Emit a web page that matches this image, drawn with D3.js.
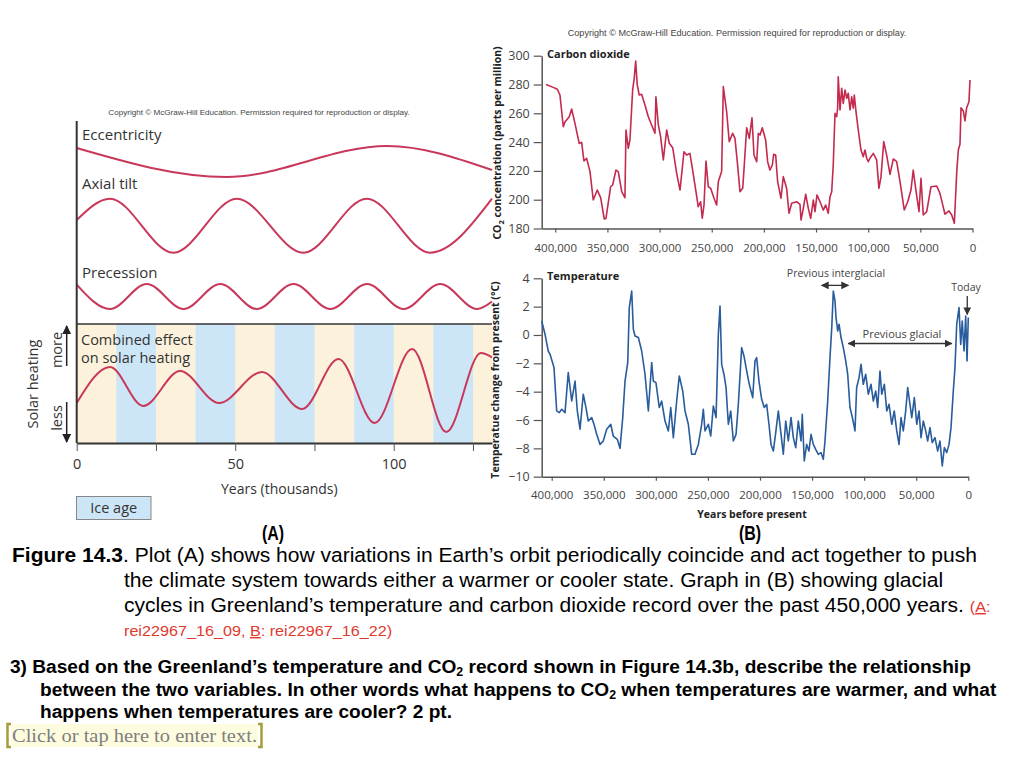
<!DOCTYPE html>
<html><head><meta charset="utf-8">
<script src="https://cdn.jsdelivr.net/npm/d3@7"></script>
<style>body{margin:0;background:#fff}svg{display:block}</style>
</head><body>
<svg id="c" width="1024" height="759"></svg>
<script>
// ---------- Panel A data (schematic orbital curves, thousands of years) ----------
const eccK = [0, 47.3, 97.9, 131];
const eccV = [0.87, -1, 1, -0.55];
const tiltK = [0, 10.5, 30.5, 50.5, 71.5, 91.5, 111.5, 131];
const tiltV = [0.21, 1, -1, 1, -1, 1, -1, 1];
const precK = [0, 10.5, 22.1, 33.7, 45.3, 56.8, 68.4, 80, 91.6, 103.1, 114.7, 126.3, 131];
const precV = [0.95, -1, 1, -1, 1, -1, 1, -1, 1, -1, 1, -1, -0.4];
const combK = [0, 10.5, 21, 32.6, 44.9, 58.4, 71.1, 82.6, 94, 105.8, 116.6, 127.5, 131];
const combV = [33.6, 63.9, 31.1, 60.5, 33.6, 59.7, 28.6, 70.6, 16.8, 79, 9.2, 75.6, 72];
const iceStart = [12.5, 37.5, 62.5, 87.5, 112.5];
const iceEnd = [25, 50, 75, 100, 125];
const aTicks = [0, 25, 50, 75, 100, 125];
const aLabels = [0, 50, 100];

// ---------- Panel B data (thousands of years before present) ----------
const co2K = [408.9,401.9,398,395.5,392.3,390.7,386.6,384.3,381.1,378.9,377,374.7,372.5,369.9,366.7,363.6,359.7,356.5,353,351.4,346.9,345,341.8,339.6,336.3,333.2,332.2,330,328.4,325.8,324.3,322.9,321.4,319.5,317.2,314,310.8,307.6,304.4,303.5,301.2,299,296.4,293.2,290.7,287.4,283.6,280.4,276.6,274,270.9,268.3,265.1,262.9,260.6,259.1,257.4,255.5,253.3,251,247.8,245.3,243.7,240.5,238.9,235.7,233.2,229.9,227.7,225.5,222.9,220.3,219.1,216.5,214,211.4,209.5,206.9,205.3,203.7,201.5,198.3,196.4,194.2,191.9,190.6,188.7,186.8,183.6,181.4,178.2,175.9,173.4,168.6,165.4,164.4,162.2,159.9,157.4,155.1,152.6,151,149.1,146.2,143,140.8,138.3,136.6,135,133.5,131.8,130.2,129.3,128.7,127,125.4,123.9,122.2,120.6,119.1,117.4,115.8,114.3,113.3,111.7,109.5,106.9,104.7,103.1,101.4,99.9,98.3,95.1,91.9,89.7,87.7,85.1,82.3,79.1,75.9,72.7,69.5,65.4,62.1,59,56.8,54.5,51.3,49.4,47.2,43.9,39.8,34.3,31.2,26.4,22.5,19.9,17.4,15.1,13.6,12,11,8.8,7.2,5.6,3.4,2.4];
const co2V = [280,278,276.7,272.7,250.7,254,257.6,263,253,245.4,239,239.8,226.9,228.7,219.5,199.8,206.7,201.4,186.6,187,209,210.2,220.6,219.5,205.6,201.4,248.4,235.7,241.5,276.2,284.3,296.3,279.7,272.7,273.2,265.8,257.6,251.9,246.1,271.5,251.9,243.8,227.6,248.4,239.2,236.1,218.3,206.7,233.3,231,232.2,220.6,205.6,195.1,198.6,187.1,196.3,226.9,209,207.9,201,196.3,212.5,219.5,278.5,261.1,240.3,246.1,242.6,226.4,205.6,207.9,220.6,250,242.6,256.9,231,226.4,246.1,244.9,250,241.5,226.4,220.6,224.1,231.5,231,212.5,201,216,207.9,190.6,197.5,198.6,196.8,185.9,194,203.8,194,187.1,199.8,191.7,203.3,198.6,192.8,196.3,190.6,202.1,205.6,224.1,260,257.6,263.5,285.4,262.3,277.4,266.9,276.2,270.4,273.9,262.3,271.5,263.5,272.7,261.1,248.4,234.5,229.9,234.5,228.8,226.4,228.8,232.2,227.6,207.9,216,240.3,231,217.6,228.3,226.4,212.5,192.8,198.6,206.7,220.6,207.9,191.7,214.9,189.4,191.7,209,209.5,204.4,189.9,192.2,189.4,183.6,219.5,234.5,238.5,263.9,261.6,254.7,263.9,268,283.1];

const tempK = [409.6,406.4,403.3,401.6,397.8,395.2,392.7,390.4,387.2,384.1,380.8,377.6,375.4,372.8,369.7,367.1,364.9,361.6,359.4,356.8,353.6,350.5,347.2,343.3,340.9,337,334.4,331.8,329.6,327,325.5,323.2,321.6,320,316.8,313.6,310.4,307.2,304,302.4,299.9,296.7,294.4,291.2,288,285.7,283.2,280,277.5,274.2,272,268.8,265.6,262.4,259.2,256,254.4,252.8,249.6,247.3,244.8,242.2,240,238.4,236.8,234.6,232.6,230.4,228.1,225.6,223,220.8,217.6,215.4,212.8,210.3,207,204.8,203.2,201,198.4,195.9,193.6,191.4,189.4,187.2,184.9,182.4,179.8,177.6,175.3,172.8,170.2,168,165.7,163.2,160.6,159.4,157.5,155.2,153,151,148.8,146.5,144,141.4,139.2,137.6,135,132.8,131.1,129.6,128,127,125.4,124.1,122.2,120,117.7,115.8,113.6,112,110,108.8,107.2,104.9,103,100.8,98.5,96,93.4,91.2,88.9,87,84.8,83.1,80.6,78.3,76.1,73.5,71.1,68.7,66.5,64.6,62.4,60.1,58.2,56,54.3,51.8,49.5,47.3,45.4,43.2,40.9,39,36.8,34.6,32,29.4,27.2,25,23,20.7,18.5,16.6,14.4,12.8,11.1,8.9,7.3,5.8,4.1,2.5,1.2,0];
const tempV = [0.99,0.05,-1.13,-1.36,-2.3,-5.36,-5.48,-5.24,-5.48,-2.65,-4.66,-3.25,-5.36,-6.65,-4.18,-5.12,-6.07,-5.83,-6.3,-7.01,-7.72,-7.48,-6.65,-6.3,-7.13,-7.36,-8,-5.83,-3.25,-1.95,1.93,3.1,0.4,-0.07,-0.18,-1.13,-2.77,-5.36,-1.95,-3.25,-3.36,-5.12,-4.66,-6.07,-6.77,-5.12,-7.24,-4.66,-2.89,-3.95,-5.36,-6.3,-8.42,-8.42,-7.72,-6.3,-5.24,-6.77,-6.3,-7.13,-5.01,-5.83,0.05,2.05,-2.07,-2.77,-3.71,-6.3,-5.36,-7.48,-7.01,-4.89,-0.89,-1.48,-2.54,-3.48,-4.42,-1.83,-1.6,-3.25,-4.54,-5.12,-4.89,-6.3,-7.72,-8.19,-6.89,-5.36,-7.01,-8.42,-6.07,-7.48,-5.83,-7.24,-7.95,-6.07,-7.48,-5.6,-8.89,-7.72,-8.19,-7.01,-7.72,-8.07,-8.42,-8.3,-8.77,-7.48,-4.66,-1.6,0.52,3.1,2.4,1.23,0.28,0.76,-0.18,-0.89,-1.83,-2.77,-5.12,-5.6,-6.3,-6.77,-3.71,-3.01,-2.07,-3.48,-2.77,-4.18,-3.48,-4.66,-3.95,-5.12,-2.54,-4.18,-3.48,-5.36,-4.89,-6.3,-5.36,-6.77,-7.72,-5.83,-6.77,-5.36,-3.71,-4.89,-5.83,-4.42,-6.3,-5.36,-7.24,-6.07,-6.77,-7.48,-6.54,-7.6,-7.24,-8.19,-7.48,-9.24,-7.95,-8.3,-7.72,-6.54,-3.95,-2.3,0.76,1.93,-0.66,0.99,-1.13,1.34,-1.83,1.23];

const co2YTicks = [180, 200, 220, 240, 260, 280, 300];
const tempYTicks = [-10, -8, -6, -4, -2, 0, 2, 4];
const yearTicks = [400, 350, 300, 250, 200, 150, 100, 50, 0];

// annotations (thousand years, °C)
const interK = [140.8, 115.2], interT = 3.5;
const glacK = [115.2, 15.9], glacT = -0.6;
const todayK = 1, todayT = [2.75, 1.45];

const svg = d3.select('#c');
const SANS = "'Open Sans', sans-serif";
const ARIAL = "'Liberation Sans', Arial, sans-serif";
const TXT = '#333';
const RED = '#c8385a';

// defs: arrow markers
const defs = svg.append('defs');
function marker(id, col) {
  defs.append('marker').attr('id', id).attr('viewBox', '0 0 10 10').attr('refX', 9).attr('refY', 5)
    .attr('markerWidth', 6).attr('markerHeight', 6).attr('orient', 'auto-start-reverse')
    .append('path').attr('d', 'M0,0 L10,5 L0,10 Z').attr('fill', col);
}
marker('arrA', '#222');
marker('arrB', '#333');

// ================= PANEL A =================
const xA = d3.scaleLinear().domain([0, 131]).range([76.7, 492]);
const yEcc = d3.scaleLinear().domain([-1, 1]).range([177, 146]);
const yTilt = d3.scaleLinear().domain([-1, 1]).range([252.7, 198.7]);
const yPrec = d3.scaleLinear().domain([-1, 1]).range([309, 284]);
const yComb = d3.scaleLinear().domain([0, 100]).range([443, 324]);

svg.append('text').attr('x', 259).attr('y', 115).attr('text-anchor', 'middle')
  .style('font-family', ARIAL).style('font-size', '8.1px').attr('fill', '#444')
  .text('Copyright © McGraw-Hill Education. Permission required for reproduction or display.');

const gA = svg.append('g');
gA.append('rect').attr('x', xA(0)).attr('y', yComb(100)).attr('width', xA(131) - xA(0))
  .attr('height', yComb(0) - yComb(100)).attr('fill', '#fcf2dc');
gA.selectAll('rect.ice').data(iceStart).join('rect').attr('class', 'ice')
  .attr('x', d => xA(d)).attr('width', (d, i) => xA(iceEnd[i]) - xA(d))
  .attr('y', yComb(100)).attr('height', yComb(0) - yComb(100)).attr('fill', '#cde6f7');
gA.append('line').attr('x1', xA(0)).attr('x2', xA(131)).attr('y1', yComb(100)).attr('y2', yComb(100))
  .attr('stroke', '#333').attr('stroke-width', 1.5);

function curveA(ks, vs, ys) {
  const line = d3.line().x(d => xA(d[0])).y(d => ys(d[1])).curve(d3.curveMonotoneX);
  gA.append('path').attr('d', line(ks.map((k, i) => [k, vs[i]])))
    .attr('fill', 'none').attr('stroke', RED).attr('stroke-width', 2);
}
curveA(eccK, eccV, yEcc);
curveA(tiltK, tiltV, yTilt);
curveA(precK, precV, yPrec);
curveA(combK, combV, yComb);

// left axis line
gA.append('line').attr('x1', xA(0)).attr('x2', xA(0)).attr('y1', 121).attr('y2', yComb(0))
  .attr('stroke', '#333').attr('stroke-width', 2);

const axA = gA.append('g').attr('transform', `translate(0,${yComb(0)})`)
  .call(d3.axisBottom(xA).tickValues(aTicks).tickSize(8).tickPadding(8).tickSizeOuter(0)
    .tickFormat(d => aLabels.includes(d) ? d : ''));
axA.select('.domain').attr('stroke', '#333').attr('stroke-width', 2);
axA.selectAll('.tick line').attr('stroke', '#555').attr('stroke-width', 1);
axA.selectAll('text').style('font-family', SANS).style('font-size', '14.5px').attr('fill', TXT);

function labelA(t, x, y, size) {
  return gA.append('text').attr('x', x).attr('y', y).style('font-family', SANS)
    .style('font-size', (size || 14.5) + 'px').attr('fill', TXT).text(t);
}
labelA('Eccentricity', 82, 140, 15);
labelA('Axial tilt', 82, 189, 15);
labelA('Precession', 82, 278, 15);
labelA('Combined effect', 81, 345);
labelA('on solar heating', 81, 363);
gA.append('text').attr('x', (xA(0) + xA(131)) / 2 - 5).attr('y', 494).attr('text-anchor', 'middle')
  .style('font-family', SANS).style('font-size', '14px').attr('fill', TXT).text('Years (thousands)');

// Solar heating side label
gA.append('text').attr('transform', 'translate(38,384) rotate(-90)').attr('text-anchor', 'middle')
  .style('font-family', SANS).style('font-size', '14.5px').attr('fill', TXT).text('Solar heating');
gA.append('text').attr('transform', 'translate(62,350) rotate(-90)').attr('text-anchor', 'middle')
  .style('font-family', SANS).style('font-size', '14.5px').attr('fill', TXT).text('more');
gA.append('text').attr('transform', 'translate(62,418) rotate(-90)').attr('text-anchor', 'middle')
  .style('font-family', SANS).style('font-size', '14.5px').attr('fill', TXT).text('less');
gA.append('line').attr('x1', 66.7).attr('x2', 66.7).attr('y1', 366).attr('y2', 326)
  .attr('stroke', '#222').attr('stroke-width', 1.5).attr('marker-end', 'url(#arrA)');
gA.append('line').attr('x1', 66.7).attr('x2', 66.7).attr('y1', 402).attr('y2', 442)
  .attr('stroke', '#222').attr('stroke-width', 1.5).attr('marker-end', 'url(#arrA)');

// Ice age legend
gA.append('rect').attr('x', 76.5).attr('y', 496.5).attr('width', 74.5).attr('height', 23)
  .attr('fill', '#cde6f7').attr('stroke', '#888').attr('stroke-width', 1);
gA.append('text').attr('x', 113.7).attr('y', 513).attr('text-anchor', 'middle')
  .style('font-family', SANS).style('font-size', '14.5px').attr('fill', TXT).text('Ice age');

// ================= PANEL B =================
const gB = svg.append('g');
gB.append('text').attr('x', 737).attr('y', 36).attr('text-anchor', 'middle')
  .style('font-family', ARIAL).style('font-size', '9.1px').attr('fill', '#444')
  .text('Copyright © McGraw-Hill Education. Permission required for reproduction or display.');

const fmtYear = d => d3.format(',')(d * 1000);

// CO2
const xC = d3.scaleLinear().domain([413, 0]).range([541.7, 972.5]);
const yC = d3.scaleLinear().domain([180, 300]).range([228.5, 55.7]);
function styleAxis(ax, fs) {
  ax.select('.domain').attr('stroke', '#555').attr('stroke-width', 1.5);
  ax.selectAll('.tick line').attr('stroke', '#555').attr('stroke-width', 1.2);
  ax.selectAll('text').style('font-family', SANS).style('font-size', fs + 'px').attr('fill', '#444');
}
styleAxis(gB.append('g').attr('transform', `translate(0,${yC(180)})`)
  .call(d3.axisBottom(xC).tickValues(yearTicks).tickFormat(fmtYear).tickSize(4).tickPadding(11).tickSizeOuter(0)), 11.5);
styleAxis(gB.append('g').attr('transform', `translate(${xC(413)},0)`)
  .call(d3.axisLeft(yC).tickValues(co2YTicks).tickSize(8).tickPadding(4).tickSizeOuter(0)), 12.5);
gB.append('path').attr('d', d3.line().x(d => xC(d[0])).y(d => yC(d[1]))(co2K.map((k, i) => [k, co2V[i]])))
  .attr('fill', 'none').attr('stroke', '#c32a4e').attr('stroke-width', 1.6).attr('stroke-linejoin', 'round');
gB.append('text').attr('x', 547).attr('y', 58).style('font-family', SANS).style('font-weight', 700)
  .style('font-size', '11px').attr('fill', '#222').text('Carbon dioxide');
const co2Title = gB.append('text').attr('transform', 'translate(501,143) rotate(-90)').attr('text-anchor', 'middle')
  .style('font-family', SANS).style('font-weight', 700).style('font-size', '10.5px').attr('fill', '#222');
co2Title.append('tspan').text('CO');
co2Title.append('tspan').attr('dy', 3).style('font-size', '7.5px').text('2');
co2Title.append('tspan').attr('dy', -3).text(' concentration (parts per million)');

// Temperature
const xT = d3.scaleLinear().domain([409.6, 0]).range([541.7, 968.3]);
const yT = d3.scaleLinear().domain([-10, 4]).range([476.7, 278.3]);
styleAxis(gB.append('g').attr('transform', `translate(0,${yT(-10)})`)
  .call(d3.axisBottom(xT).tickValues(yearTicks).tickFormat(fmtYear).tickSize(4).tickPadding(10).tickSizeOuter(0)), 11.5);
styleAxis(gB.append('g').attr('transform', `translate(${xT(409.6)},0)`)
  .call(d3.axisLeft(yT).tickValues(tempYTicks).tickSize(8).tickPadding(4).tickSizeOuter(0)), 12.5);
gB.append('path').attr('d', d3.line().x(d => xT(d[0])).y(d => yT(d[1]))(tempK.map((k, i) => [k, tempV[i]])))
  .attr('fill', 'none').attr('stroke', '#295c9c').attr('stroke-width', 1.6).attr('stroke-linejoin', 'round');
gB.append('text').attr('x', 547).attr('y', 280).style('font-family', SANS).style('font-weight', 700)
  .style('font-size', '11px').attr('fill', '#222').text('Temperature');
gB.append('text').attr('transform', 'translate(499,380) rotate(-90)').attr('text-anchor', 'middle')
  .style('font-family', SANS).style('font-weight', 700).style('font-size', '10.5px').attr('fill', '#222')
  .text('Temperatue change from present (°C)');
gB.append('text').attr('x', 752).attr('y', 518).attr('text-anchor', 'middle')
  .style('font-family', SANS).style('font-weight', 700).style('font-size', '10.5px').attr('fill', '#222')
  .text('Years before present');

// annotations
function dbl(k, t) {
  gB.append('line').attr('x1', xT(k[0])).attr('x2', xT(k[1])).attr('y1', yT(t)).attr('y2', yT(t))
    .attr('stroke', '#333').attr('stroke-width', 1.3)
    .attr('marker-start', 'url(#arrB)').attr('marker-end', 'url(#arrB)');
}
dbl(interK, interT);
dbl(glacK, glacT);
gB.append('line').attr('x1', xT(todayK)).attr('x2', xT(todayK)).attr('y1', yT(todayT[0])).attr('y2', yT(todayT[1]))
  .attr('stroke', '#333').attr('stroke-width', 1.3).attr('marker-end', 'url(#arrB)');
gB.append('text').attr('x', (xT(interK[0]) + xT(interK[1])) / 2 + 1).attr('y', 277).attr('text-anchor', 'middle')
  .style('font-family', SANS).style('font-size', '10.5px').attr('fill', '#444').text('Previous interglacial');
gB.append('text').attr('x', 902).attr('y', 338).attr('text-anchor', 'middle')
  .style('font-family', SANS).style('font-size', '11px').attr('fill', '#444').text('Previous glacial');
gB.append('text').attr('x', 966).attr('y', 291).attr('text-anchor', 'middle')
  .style('font-family', SANS).style('font-size', '10.5px').attr('fill', '#444').text('Today');

// ================= CAPTION =================
function condensedBlock(lines, fontSize, weight, refIndex, refWidth) {
  const g = svg.append('g');
  const texts = lines.map(ln => {
    const t = g.append('text').attr('y', ln.y).style('font-family', ARIAL)
      .style('font-size', fontSize + 'px').style('font-weight', weight).attr('fill', '#000');
    ln.parts.forEach(p => {
      const ts = t.append('tspan').text(p.t);
      if (p.b) ts.style('font-weight', 700);
      if (p.c) ts.attr('fill', p.c);
      if (p.fs) ts.style('font-size', p.fs + 'px');
      if (p.u) ts.style('text-decoration', 'underline');
      if (p.dy) ts.attr('dy', p.dy);
    });
    return t;
  });
  const w = texts[refIndex].node().getComputedTextLength();
  const s = refWidth / w;
  g.attr('transform', `scale(${s},1)`);
  texts.forEach((t, i) => t.attr('x', lines[i].x / s));
}

svg.append('text').attr('x', 273).attr('y', 540).attr('text-anchor', 'middle')
  .style('font-family', ARIAL).style('font-weight', 700).style('font-size', '19.5px')
  .attr('transform', 'translate(273,0) scale(0.82,1) translate(-273,0)').text('(A)');
svg.append('text').attr('x', 750).attr('y', 540).attr('text-anchor', 'middle')
  .style('font-family', ARIAL).style('font-weight', 700).style('font-size', '19.5px')
  .attr('transform', 'translate(750,0) scale(0.82,1) translate(-750,0)').text('(B)');

const REDT = '#e03a2f';
condensedBlock([
  { x: 12, y: 562, parts: [{ t: 'Figure 14.3', b: 1 }, { t: '. Plot (A) shows how variations in Earth’s orbit periodically coincide and act together to push' }] },
  { x: 124, y: 587, parts: [{ t: 'the climate system towards either a warmer or cooler state. Graph in (B) showing glacial' }] },
  { x: 124, y: 612, parts: [{ t: 'cycles in Greenland’s temperature and carbon dioxide record over the past 450,000 years. ' },
    { t: '(', c: REDT, fs: 15 }, { t: 'A', c: REDT, fs: 15, u: 1 }, { t: ':', c: REDT, fs: 15 }] },
  { x: 124, y: 636, parts: [{ t: 'rei22967_16_09, ', c: REDT, fs: 15 }, { t: 'B', c: REDT, fs: 15, u: 1 }, { t: ': rei22967_16_22)', c: REDT, fs: 15 }] }
], 19.5, 400, 0, 966);

condensedBlock([
  { x: 10, y: 673, parts: [{ t: '3) Based on the Greenland’s temperature and CO' }, { t: '2', fs: 12, dy: 3 }, { t: ' record shown in Figure 14.3b, describe the relationship', dy: -3 }] },
  { x: 40, y: 696, parts: [{ t: 'between the two variables. In other words what happens to CO' }, { t: '2', fs: 12, dy: 3 }, { t: ' when temperatures are warmer, and what', dy: -3 }] },
  { x: 40, y: 718, parts: [{ t: 'happens when temperatures are cooler? 2 pt.' }] }
], 18.5, 700, 0, 962);

// input placeholder
svg.append('rect').attr('x', 11).attr('y', 724).attr('width', 247).attr('height', 23).attr('fill', '#fdfcdf');
const br = '#a59d3c';
svg.append('path').attr('d', 'M11,724 H7.5 V747 H11').attr('fill', 'none').attr('stroke', br).attr('stroke-width', 2.5);
svg.append('path').attr('d', 'M258,724 H261.5 V747 H258').attr('fill', 'none').attr('stroke', br).attr('stroke-width', 2.5);
svg.append('text').attr('x', 12).attr('y', 742).style('font-family', "'Liberation Serif', 'Times New Roman', serif")
  .style('font-size', '19.5px').attr('fill', '#7f7f7f').attr('textLength', 245).attr('lengthAdjust', 'spacingAndGlyphs')
  .text('Click or tap here to enter text.');
</script>
</body></html>
